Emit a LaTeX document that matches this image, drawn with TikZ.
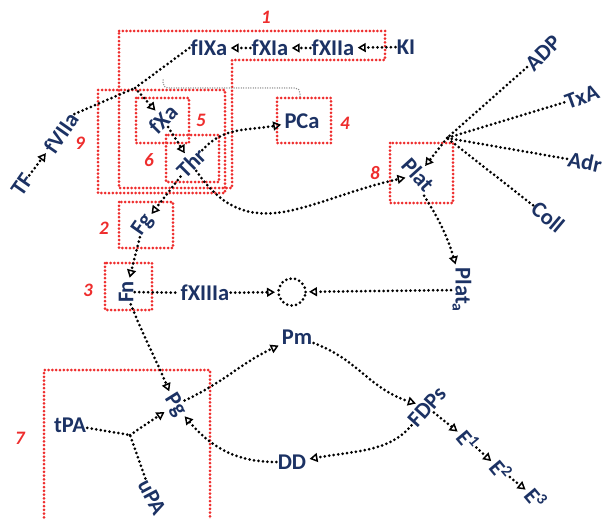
\documentclass[tikz,border=0pt]{standalone}
\usepackage{fontspec}
\usepackage{tikz}
\usetikzlibrary{positioning,arrows.meta,calc,shapes.geometric}
\newfontfamily\carl{Carlito}
\definecolor{navy}{RGB}{28,50,100}
\definecolor{boxred}{RGB}{238,45,45}
\tikzset{
  lbl/.style={text=navy,font=\carl\bfseries\fontsize{22.5}{25}\selectfont,inner sep=1.2pt},
  grpnum/.style={text=boxred,font=\carl\bfseries\itshape\fontsize{19}{21}\selectfont,inner sep=0pt},
  link/.style={line width=3pt,dash pattern=on 0pt off 4.5pt,line cap=round,black},
  flow/.style={link,-{Triangle[open,length=8pt,width=9pt,line width=1.5pt]},shorten >=2pt},
  grp/.style={draw=boxred,line width=3pt,dash pattern=on 0pt off 3.8pt,line cap=round},
  hint/.style={draw=black!45,line width=1.5pt,dash pattern=on 0pt off 2.4pt,line cap=round,rounded corners=5pt},
  knot/.style={circle,draw,link,minimum size=27pt,inner sep=0pt},
}

\begin{document}
\begin{tikzpicture}[x=1pt,y=1pt]
  \useasboundingbox (0,0) rectangle (603,-519);
  % red dotted groups
  \draw[grp] (119,-31) -- (385,-31) -- (385,-60) -- (232,-60) -- (232,-188) -- (119,-188) -- cycle;
  \draw[grp] (98,-90) rectangle (225,-193);
  \draw[grp] (136,-98) rectangle (189,-143);
  \draw[grp] (166,-135) rectangle (219,-182);
  \draw[grp] (119,-202) rectangle (173,-248);
  \draw[grp] (105,-263) rectangle (152,-310);
  \draw[grp] (277,-98) rectangle (331,-143);
  \draw[grp] (390,-143) rectangle (453,-203);
  \draw[grp] (44,-525) -- (44,-370) -- (210,-370) -- (210,-525);
  \foreach \n/\x/\y in {1/266/17, 2/104/228, 3/88/290, 4/345/123, 5/201/120,
                        6/149/160, 7/20/438, 8/375/173, 9/80/143}
    \node[grpnum] at (\x,-\y) {\n};

  % factors
  \node[lbl] (fIXa)  at (209,-48) {fIXa};
  \node[lbl] (fXIa)  at (270,-48) {fXIa};
  \node[lbl] (fXIIa) at (333,-48) {fXIIa};
  \node[lbl] (KI)    at (406,-47) {KI};
  \node[lbl,rotate=55] (fVIIa) at (61,-133) {fVIIa};
  \node[lbl,rotate=55] (TF)    at (22,-185) {TF};
  \node[lbl,rotate=45] (fXa)   at (163,-119) {fXa};
  \node[lbl,rotate=45] (Thr)   at (191,-163) {Thr};
  \node[lbl] (PCa)   at (302,-121) {PCa};
  \node[lbl,rotate=55] (Fg)    at (143,-225) {Fg};
  \node[lbl,rotate=90] (Fn)    at (126,-292) {Fn};
  \node[lbl] (fXIIIa) at (205,-293) {fXIIIa};
  \node[knot] (clot) at (292,-292) {};

  % platelets
  \node[lbl,rotate=-48] (Plat)  at (418,-175) {Plat};
  \node[lbl,rotate=-90] (Plata) at (462,-290) {Plat\textsubscript{a}};
  \node[lbl,rotate=45]  (ADP)  at (543,-53)  {ADP};
  \node[lbl,rotate=20]  (TxA)  at (582,-97)  {TxA};
  \node[lbl,rotate=-12] (Adr)  at (585,-162) {Adr};
  \node[lbl,rotate=-40] (Coll) at (548,-217) {Coll};

  % fibrinolysis
  \node[lbl] (Pm) at (297,-337) {Pm};
  \node[lbl,rotate=-58] (Pg) at (175,-405) {Pg};
  \node[lbl,rotate=48] (FDPs) at (427,-407) {FDPs};
  \node[lbl] (DD) at (292,-462) {DD};
  \node[lbl] (tPA) at (70,-425) {tPA};
  \node[lbl,rotate=-62] (uPA) at (152,-497) {uPA};
  \node[lbl,rotate=-50] (E1) at (468,-440) {E\textsuperscript{1}};
  \node[lbl,rotate=-50] (E2) at (501,-470) {E\textsuperscript{2}};
  \node[lbl,rotate=-50] (E3) at (536,-498) {E\textsuperscript{3}};

  \coordinate (J1) at (135,-88);
  \coordinate (J2) at (447,-138);
  \coordinate (J3) at (130,-435);

  % grey hint from fXa group to PCa
  \draw[hint] (163,-80) -- (163,-88) -- (300,-88) -- (300,-98);

  % cascade
  \draw[flow] (KI) -- (fXIIa);
  \draw[flow] (fXIIa) -- (fXIa);
  \draw[flow] (fXIa) -- (fIXa);
  \draw[link] (fIXa.west) -- (J1);
  \draw[link] (fVIIa.east) -- (J1);
  \draw[flow] (J1) -- (fXa);
  \draw[flow] (TF) -- (fVIIa);
  \draw[flow] (fXa) -- (Thr);
  \draw[flow] (Thr) to[out=35,in=190] (PCa);
  \draw[flow] (Thr) to[out=-60,in=200,looseness=1.25] (Plat);
  \draw[flow] (Thr) -- (Fg);
  \draw[flow] (Fg) -- (Fn);
  \draw[link] (Fn) -- (fXIIIa);
  \draw[flow] (fXIIIa) -- (clot);

  % platelet activation
  \foreach \n in {ADP,TxA,Adr,Coll}
    \draw[link] (\n) -- (J2);
  \draw[flow] (J2) -- (Plat);
  \draw[flow] (Plat.south east) to[bend left=8] (Plata);
  \draw[flow] (Plata) -- (clot);

  % plasmin loop
  \draw[flow] (Fn) to[out=-80,in=125] (Pg);
  \draw[flow] (Pg) to[out=40,in=205] (Pm);
  \draw[flow] (Pm) to[out=-20,in=150] (FDPs);
  \draw[flow] (FDPs) to[out=220,in=10] (DD);
  \draw[flow] (DD) to[out=180,in=-35] (Pg);
  \draw[link] (tPA) -- (J3);
  \draw[link] (uPA) -- (J3);
  \draw[flow] (J3) -- (Pg);
  \draw[flow] (FDPs) -- (E1);
  \draw[flow] (E1) -- (E2);
  \draw[flow] (E2) -- (E3);
\end{tikzpicture}
\end{document}
